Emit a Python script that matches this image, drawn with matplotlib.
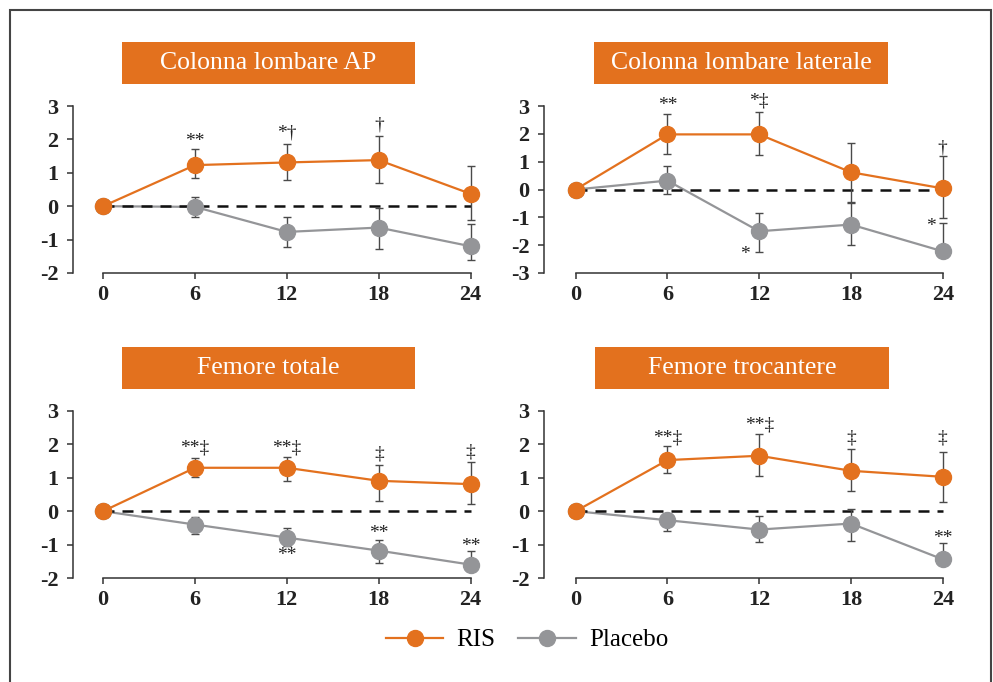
import matplotlib
matplotlib.use("Agg")
import matplotlib.pyplot as plt
from matplotlib.patches import Rectangle
from matplotlib.lines import Line2D

# ---- data -------------------------------------------------------------
months = [0, 6, 12, 18, 24]
month_labels = ["0", "6", "12", "18", "24"]

titles = ["Colonna lombare AP", "Colonna lombare laterale",
          "Femore totale", "Femore trocantere"]

# RIS (mean, lower error, upper error) per panel
ris_mean = [[0, 1.23, 1.31, 1.38, 0.37],
            [0, 1.98, 1.98, 0.62, 0.04],
            [0, 1.30, 1.30, 0.91, 0.81],
            [0, 1.53, 1.66, 1.21, 1.03]]
ris_lo = [[0, 0.39, 0.54, 0.70, 0.77],
          [0, 0.70, 0.73, 1.08, 1.08],
          [0, 0.28, 0.40, 0.59, 0.58],
          [0, 0.38, 0.60, 0.61, 0.76]]
ris_hi = [[0, 0.47, 0.54, 0.72, 0.83],
          [0, 0.75, 0.82, 1.06, 1.16],
          [0, 0.28, 0.32, 0.46, 0.66],
          [0, 0.42, 0.64, 0.65, 0.75]]

# Placebo (mean, lower error, upper error) per panel
pbo_mean = [[0, -0.02, -0.77, -0.64, -1.20],
            [0, 0.32, -1.50, -1.26, -2.22],
            [0, -0.40, -0.79, -1.18, -1.60],
            [0, -0.27, -0.55, -0.37, -1.44]]
pbo_lo = [[0, 0.30, 0.45, 0.65, 0.40],
          [0, 0.48, 0.74, 0.75, 0.15],
          [0, 0.28, 0.25, 0.37, 0.15],
          [0, 0.33, 0.37, 0.51, 0.15]]
pbo_hi = [[0, 0.30, 0.46, 0.59, 0.68],
          [0, 0.54, 0.64, 0.76, 1.02],
          [0, 0.23, 0.29, 0.33, 0.40],
          [0, 0.20, 0.41, 0.43, 0.50]]

# y-axis ticks per panel
y_ticks = [[3, 2, 1, 0, -1, -2],
           [3, 2, 1, 0, -1, -2, -3],
           [3, 2, 1, 0, -1, -2],
           [3, 2, 1, 0, -1, -2]]
y_tick_labels = [["3", "2", "1", "0", "-1", "-2"],
                 ["3", "2", "1", "0", "-1", "-2", "-3"],
                 ["3", "2", "1", "0", "-1", "-2"],
                 ["3", "2", "1", "0", "-1", "-2"]]

# significance marks: (month, value, text)
marks = [
    [(6, 1.93, "**"), (12, 2.20, "*†"), (18, 2.42, "†")],
    [(6, 3.00, "**"), (12, 3.18, "*‡"), (24, 1.50, "†"),
     (11.1, -2.32, "*"), (23.25, -1.32, "*")],
    [(6, 1.88, "**‡"), (12, 1.88, "**‡"), (18, 1.71, "‡"), (24, 1.78, "‡"),
     (12, -1.33, "**"), (18, -0.68, "**"), (24, -1.06, "**")],
    [(6, 2.18, "**‡"), (12, 2.58, "**‡"), (18, 2.18, "‡"), (24, 2.18, "‡"),
     (24, -0.83, "**")],
]

# ---- style ------------------------------------------------------------
ORANGE = "#E3711E"
GREY = "#949598"
ERR = "#4a4a4a"
INK = "#222222"
SERIF = ["Liberation Serif", "DejaVu Serif"]

W, H = 993, 682
fig = plt.figure(figsize=(W / 100, H / 100), dpi=100)

# (left, top, right, bottom) in pixels, x-limits, y-limits
layout = [
    ((73, 106, 486, 273), (-1.96, 25.0), (-2, 3)),
    ((544, 106, 958, 273), (-2.07, 25.0), (-3, 3)),
    ((73, 411, 486, 578), (-1.96, 25.0), (-2, 3)),
    ((544, 411, 958, 578), (-2.07, 25.0), (-2, 3)),
]
title_boxes = [(121.5, 42, 414.5, 84), (594, 42, 888, 84),
               (121.5, 347, 414.5, 389), (595, 347, 889, 389)]

for i, ((l, t, r, b), xl, yl) in enumerate(layout):
    ax = fig.add_axes([l / W, 1 - b / H, (r - l) / W, (b - t) / H])
    ax.set_xlim(*xl)
    ax.set_ylim(*yl)
    ax.patch.set_visible(False)

    # connecting lines
    ax.plot(months, pbo_mean[i], color=GREY, lw=1.6, zorder=2, clip_on=False)
    ax.plot(months, ris_mean[i], color=ORANGE, lw=1.6, zorder=2.2, clip_on=False)

    # zero reference
    ax.plot([months[0], months[-1]], [0, 0], color="#111111", lw=1.8,
            ls=(0, (4.4, 3.2)), zorder=3)

    # error bars
    ax.errorbar(months, pbo_mean[i], yerr=[pbo_lo[i], pbo_hi[i]], fmt="none",
                ecolor=ERR, elinewidth=1.0, capsize=3.2, capthick=1.0,
                zorder=3.5, clip_on=False)
    ax.errorbar(months, ris_mean[i], yerr=[ris_lo[i], ris_hi[i]], fmt="none",
                ecolor=ERR, elinewidth=1.0, capsize=3.2, capthick=1.0,
                zorder=3.6, clip_on=False)

    # markers
    ax.plot(months, pbo_mean[i], ls="none", marker="o", ms=11.5,
            mfc=GREY, mec=GREY, zorder=4, clip_on=False)
    ax.plot(months, ris_mean[i], ls="none", marker="o", ms=11.5,
            mfc=ORANGE, mec=ORANGE, zorder=4.2, clip_on=False)

    # significance marks
    for mx, my, txt in marks[i]:
        ax.text(mx, my, txt, ha="center", va="center", fontsize=14,
                family=SERIF, color=INK, zorder=5)

    # axes styling
    for side in ("top", "right"):
        ax.spines[side].set_visible(False)
    for side in ("left", "bottom"):
        ax.spines[side].set_color("#333333")
        ax.spines[side].set_linewidth(1.1)
    ax.spines["left"].set_bounds(yl[0], yl[1])
    ax.spines["bottom"].set_bounds(months[0], months[-1])

    ax.set_xticks(months)
    ax.set_xticklabels(month_labels)
    ax.set_yticks(y_ticks[i])
    ax.set_yticklabels(y_tick_labels[i])
    ax.tick_params(axis="both", direction="out", length=4.5, width=1.1,
                   color="#333333", labelcolor=INK, labelsize=16)
    ax.tick_params(axis="x", pad=4)
    ax.tick_params(axis="y", pad=6)
    for lab in ax.get_xticklabels() + ax.get_yticklabels():
        lab.set_family(SERIF)
        lab.set_fontweight("bold")

    # orange title box
    bl, bt, br, bb = title_boxes[i]
    fig.patches.append(Rectangle((bl / W, 1 - bb / H), (br - bl) / W, (bb - bt) / H,
                                 transform=fig.transFigure, facecolor=ORANGE,
                                 edgecolor="none", zorder=1))
    fig.text((bl + br) / 2 / W, 1 - (bt + bb) / 2 / H, titles[i],
             ha="center", va="center", color="white", fontsize=18.5,
             family=SERIF, zorder=2)

# outer frame
fig.patches.append(Rectangle((10 / W, -0.02), (991 - 10) / W, 1 - 10 / H + 0.02,
                             transform=fig.transFigure, facecolor="none",
                             edgecolor="#444444", lw=1.5, zorder=0))

# legend
handles = [Line2D([], [], color=ORANGE, lw=1.6, marker="o", ms=11.5,
                  mfc=ORANGE, mec=ORANGE),
           Line2D([], [], color=GREY, lw=1.6, marker="o", ms=11.5,
                  mfc=GREY, mec=GREY)]
fig.legend(handles, ["RIS", "Placebo"], loc="center",
           bbox_to_anchor=(527 / W, 1 - 640 / H), ncol=2, frameon=False,
           handlelength=2.3, handletextpad=0.52, columnspacing=0.92,
           prop={"family": SERIF, "size": 18})

fig.savefig("out.png", dpi=100)
